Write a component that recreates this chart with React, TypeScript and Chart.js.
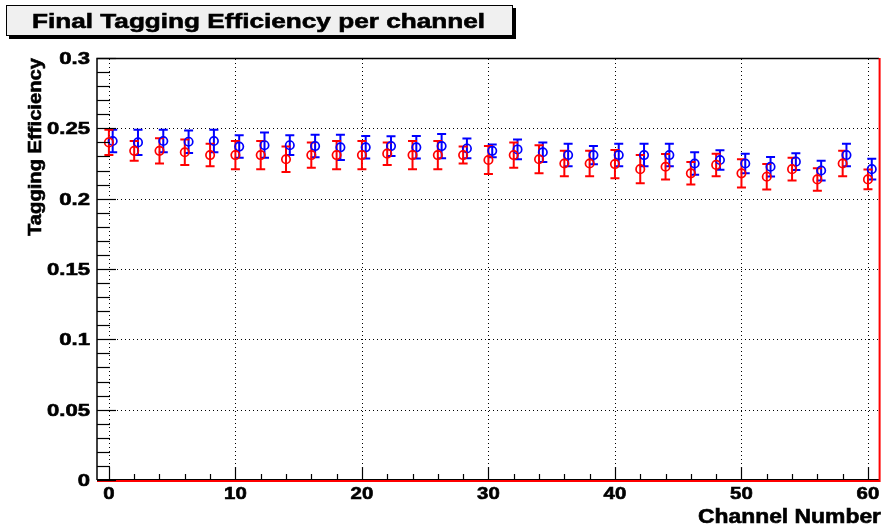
import React, { useEffect, useRef } from "react";
import { Chart, registerables } from "chart.js";

Chart.register(...registerables);

// Channel numbers (even channels only)
const channels = [0, 2, 4, 6, 8, 10, 12, 14, 16, 18, 20, 22, 24, 26, 28, 30, 32, 34, 36, 38, 40, 42, 44, 46, 48, 50, 52, 54, 56, 58, 60];

// Red series: tagging efficiency and its error
const redEff = [0.240, 0.234, 0.234, 0.233, 0.231, 0.231, 0.231, 0.228, 0.231, 0.231, 0.231, 0.232, 0.231, 0.231, 0.231, 0.2275, 0.231, 0.228, 0.225, 0.225, 0.2246, 0.221, 0.2227, 0.218, 0.224, 0.218, 0.2156, 0.221, 0.2137, 0.225, 0.2137];
const redErr = [0.009, 0.007, 0.009, 0.009, 0.008, 0.010, 0.010, 0.009, 0.009, 0.010, 0.010, 0.008, 0.010, 0.010, 0.006, 0.010, 0.009, 0.010, 0.009, 0.009, 0.010, 0.010, 0.009, 0.008, 0.008, 0.010, 0.009, 0.008, 0.008, 0.009, 0.007];

// Blue series: tagging efficiency and its error
const blueEff = [0.241, 0.240, 0.241, 0.2405, 0.241, 0.237, 0.238, 0.238, 0.2374, 0.2365, 0.2365, 0.2374, 0.2365, 0.2374, 0.2357, 0.234, 0.235, 0.233, 0.231, 0.231, 0.231, 0.231, 0.231, 0.225, 0.2275, 0.225, 0.2227, 0.2263, 0.220, 0.231, 0.221];
const blueErr = [0.008, 0.009, 0.008, 0.008, 0.008, 0.008, 0.009, 0.007, 0.008, 0.009, 0.008, 0.007, 0.008, 0.0086, 0.007, 0.0045, 0.007, 0.007, 0.008, 0.0065, 0.008, 0.008, 0.008, 0.008, 0.007, 0.007, 0.007, 0.006, 0.007, 0.008, 0.0073];
const BLUE_SHIFT = 0.3;

// Axis ticks
const xMajorTicks = [0, 10, 20, 30, 40, 50, 60];
const xTickLabels = ["0", "10", "20", "30", "40", "50", "60"];
const yMajorTicks = [0, 0.05, 0.1, 0.15, 0.2, 0.25, 0.3];
const yTickLabels = ["0", "0.05", "0.1", "0.15", "0.2", "0.25", "0.3"];

const TITLE = "Final Tagging Efficiency per channel";
const X_TITLE = "Channel Number";
const Y_TITLE = "Tagging Efficiency";

const FONT = '"Liberation Sans", Arial, Helvetica, sans-serif';
const RED = "#ff0000";
const BLUE = "#0000ff";

// Draws heavy text, optionally stretched along its direction and rotated.
function stretchedText(
  ctx: CanvasRenderingContext2D,
  text: string,
  x: number,
  y: number,
  sx: number,
  align: CanvasTextAlign,
  rotate = 0
) {
  ctx.save();
  ctx.translate(x, y);
  if (rotate) ctx.rotate(rotate);
  ctx.scale(sx, 1);
  ctx.textAlign = align;
  ctx.textBaseline = "alphabetic";
  ctx.lineWidth = 0.6;
  ctx.strokeStyle = ctx.fillStyle as string;
  ctx.fillText(text, 0, 0);
  ctx.strokeText(text, 0, 0);
  ctx.restore();
}

const rootStyle = {
  id: "rootStyle",
  beforeDatasetsDraw(chart: any) {
    const ctx: CanvasRenderingContext2D = chart.ctx;
    const { left, right, top, bottom } = chart.chartArea;
    const xs = chart.scales.x;
    const ys = chart.scales.y;

    // dotted grid at major ticks
    ctx.save();
    ctx.strokeStyle = "#000";
    ctx.lineWidth = 1;
    ctx.setLineDash([1, 3]);
    xMajorTicks.forEach((v) => {
      const px = Math.round(xs.getPixelForValue(v)) + 0.5;
      ctx.beginPath();
      ctx.moveTo(px, bottom);
      ctx.lineTo(px, top);
      ctx.stroke();
    });
    yMajorTicks.forEach((v) => {
      if (v <= 0 || v >= 0.3) return;
      const py = Math.round(ys.getPixelForValue(v)) + 0.5;
      ctx.beginPath();
      ctx.moveTo(left, py);
      ctx.lineTo(right, py);
      ctx.stroke();
    });
    ctx.restore();

    // error bars
    const series = [
      { xs: channels.map((c) => c + BLUE_SHIFT), ys: blueEff, errs: blueErr, color: BLUE },
      { xs: channels, ys: redEff, errs: redErr, color: RED },
    ];
    ctx.save();
    ctx.lineWidth = 2;
    series.forEach((s) => {
      ctx.strokeStyle = s.color;
      s.xs.forEach((xv, i) => {
        const px = xs.getPixelForValue(xv);
        const pTop = ys.getPixelForValue(s.ys[i] + s.errs[i]);
        const pBot = ys.getPixelForValue(s.ys[i] - s.errs[i]);
        ctx.beginPath();
        ctx.moveTo(px, pTop);
        ctx.lineTo(px, pBot);
        ctx.moveTo(px - 4.5, pTop);
        ctx.lineTo(px + 4.5, pTop);
        ctx.moveTo(px - 4.5, pBot);
        ctx.lineTo(px + 4.5, pBot);
        ctx.stroke();
      });
    });
    ctx.restore();
  },
  afterDraw(chart: any) {
    const ctx: CanvasRenderingContext2D = chart.ctx;
    const { left, right, top, bottom } = chart.chartArea;
    const xs = chart.scales.x;
    const ys = chart.scales.y;

    ctx.save();
    // frame: top and left black
    ctx.strokeStyle = "#000";
    ctx.lineWidth = 1.5;
    ctx.beginPath();
    ctx.moveTo(right, top + 0.5);
    ctx.lineTo(left, top + 0.5);
    ctx.lineTo(left, bottom);
    ctx.stroke();
    ctx.lineWidth = 1;
    ctx.beginPath();
    ctx.moveTo(left, bottom - 0.5);
    ctx.lineTo(right, bottom - 0.5);
    ctx.stroke();
    // frame: bottom and right red
    ctx.strokeStyle = RED;
    ctx.lineWidth = 2;
    ctx.beginPath();
    ctx.moveTo(left, bottom + 1);
    ctx.lineTo(right, bottom + 1);
    ctx.moveTo(right + 0.5, bottom + 2);
    ctx.lineTo(right + 0.5, top);
    ctx.stroke();

    // x ticks (inside, pointing up)
    ctx.strokeStyle = "#000";
    ctx.lineWidth = 1.2;
    for (let v = 0; v <= 60; v += 2) {
      const px = Math.round(xs.getPixelForValue(v)) + 0.5;
      const len = v % 10 === 0 ? 13 : 6;
      ctx.beginPath();
      ctx.moveTo(px, bottom);
      ctx.lineTo(px, bottom - len);
      ctx.stroke();
    }
    // y ticks (inside, pointing right)
    for (let k = 0; k <= 30; k++) {
      const v = k / 100;
      const py = Math.round(ys.getPixelForValue(v)) + 0.5;
      const len = k % 5 === 0 ? 19 : 13;
      ctx.beginPath();
      ctx.moveTo(left, py);
      ctx.lineTo(left + len, py);
      ctx.stroke();
    }

    // tick labels
    ctx.fillStyle = "#000";
    ctx.font = `bold 17px ${FONT}`;
    xMajorTicks.forEach((v, i) => {
      stretchedText(ctx, xTickLabels[i], xs.getPixelForValue(v), 499, 1.2, "center");
    });
    yMajorTicks.forEach((v, i) => {
      stretchedText(ctx, yTickLabels[i], 90, ys.getPixelForValue(v) + 6, 1.3, "right");
    });

    // axis titles
    ctx.font = `bold 20px ${FONT}`;
    const wx = ctx.measureText(X_TITLE).width;
    stretchedText(ctx, X_TITLE, 881, 523, 183 / wx, "right");
    ctx.font = `bold 19px ${FONT}`;
    const wy = ctx.measureText(Y_TITLE).width;
    stretchedText(ctx, Y_TITLE, 41, 58, 178 / wy, "right", -Math.PI / 2);

    // title box with shadow
    ctx.fillStyle = "#000";
    ctx.fillRect(9, 8, 507, 31);
    ctx.fillStyle = "#f0f0f0";
    ctx.fillRect(6, 5, 507, 31);
    ctx.strokeStyle = "#000";
    ctx.lineWidth = 1;
    ctx.strokeRect(6.5, 5.5, 506, 30);
    ctx.fillStyle = "#000";
    ctx.font = `bold 21px ${FONT}`;
    const wt = ctx.measureText(TITLE).width;
    stretchedText(ctx, TITLE, 32, 28, 453 / wt, "left");
    ctx.restore();
  },
};

export default function App() {
  const canvasRef = useRef<HTMLCanvasElement | null>(null);

  useEffect(() => {
    if (!canvasRef.current) return;
    const chart = new Chart(canvasRef.current, {
      type: "scatter",
      data: {
        datasets: [
          {
            label: "red",
            data: channels.map((c, i) => ({ x: c, y: redEff[i] })),
            borderColor: RED,
            backgroundColor: "rgba(0,0,0,0)",
            pointRadius: 4.2,
            pointBorderWidth: 1.7,
            pointStyle: "circle",
          },
          {
            label: "blue",
            data: channels.map((c, i) => ({ x: c + BLUE_SHIFT, y: blueEff[i] })),
            borderColor: BLUE,
            backgroundColor: "rgba(0,0,0,0)",
            pointRadius: 4.2,
            pointBorderWidth: 1.7,
            pointStyle: "circle",
          },
        ],
      },
      options: {
        responsive: false,
        animation: false,
        devicePixelRatio: 1,
        layout: { padding: { left: 97, right: 3, top: 58, bottom: 49 } },
        plugins: {
          legend: { display: false },
          tooltip: { enabled: false },
          title: { display: false },
        },
        scales: {
          x: { type: "linear", min: -0.94, max: 60.88, display: false },
          y: { type: "linear", min: 0, max: 0.3, display: false },
        },
      },
      plugins: [rootStyle],
    });
    return () => chart.destroy();
  }, []);

  return (
    <div style={{ position: "absolute", left: 0, top: 0, width: 885, height: 529, background: "#fff" }}>
      <canvas ref={canvasRef} width={885} height={529} style={{ display: "block" }} />
    </div>
  );
}
